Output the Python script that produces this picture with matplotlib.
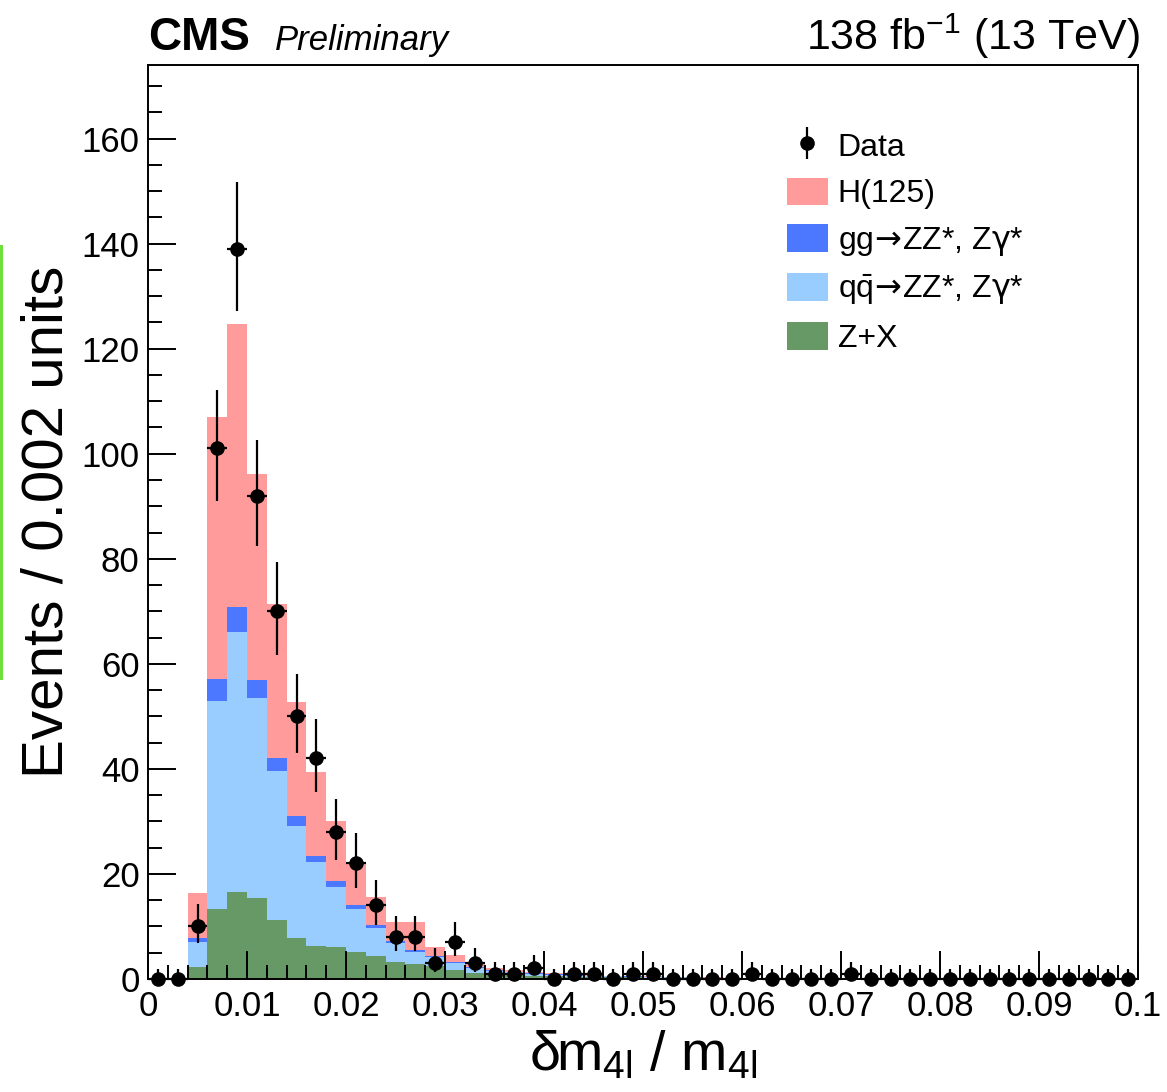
import numpy as np
import matplotlib
matplotlib.use("Agg")
import matplotlib.pyplot as plt
from matplotlib.patches import Patch, Rectangle
from matplotlib.ticker import MultipleLocator, FixedLocator, FixedFormatter

plt.rcParams['font.family'] = ['Liberation Sans', 'DejaVu Sans']
plt.rcParams['mathtext.fontset'] = 'custom'
plt.rcParams['mathtext.rm'] = 'Liberation Sans'
plt.rcParams['mathtext.it'] = 'Liberation Sans:italic'
plt.rcParams['mathtext.bf'] = 'Liberation Sans:bold'
plt.rcParams['mathtext.sf'] = 'DejaVu Sans'

# binning: 50 bins of 0.002 from 0 to 0.1
bin_edges = np.linspace(0.0, 0.1, 51)

# observed events per bin
data = [0, 0, 10, 101, 139, 92, 70, 50, 42, 28,
        22, 14, 8, 8, 3, 7, 3, 1, 1, 2,
        0, 1, 1, 0, 1, 1, 0, 0, 0, 0,
        1, 0, 0, 0, 0, 1, 0, 0, 0, 0,
        0, 0, 0, 0, 0, 0, 0, 0, 0, 0]

# expected contributions (not stacked)
zx = [0, 0, 2.2, 13.3, 16.6, 15.5, 11.2, 7.9, 6.3, 6.0,
      5.2, 4.4, 3.2, 2.9, 2.5, 1.7, 1.2, 0.9, 0.8, 0.6,
      0.5, 0.4, 0.35, 0.3, 0.3, 0.25, 0.2, 0.2, 0.15, 0.15,
      0.12, 0.12, 0.1, 0.1, 0.08, 0.08, 0.07, 0.06, 0.06, 0.05,
      0.05, 0.04, 0.04, 0.04, 0.03, 0.03, 0.03, 0.02, 0.02, 0.02]
qqzz = [0, 0, 4.9, 39.6, 49.4, 38.0, 28.4, 21.3, 16.0, 11.5,
        8.1, 5.4, 3.6, 2.3, 1.6, 1.3, 0.9, 0.6, 0.5, 0.4,
        0.3, 0.25, 0.2, 0.2, 0.15, 0.15, 0.12, 0.1, 0.1, 0.08,
        0.07, 0.06, 0.05, 0.05, 0.04, 0.04, 0.03, 0.03, 0.03, 0.02,
        0.02, 0.02, 0.02, 0.02, 0.01, 0.01, 0.01, 0.01, 0.01, 0.01]
ggzz = [0, 0, 0.8, 4.3, 4.8, 3.5, 2.5, 1.8, 1.2, 1.1,
        0.8, 0.5, 0.4, 0.3, 0.3, 0.3, 0.2, 0.2, 0.1, 0.1,
        0.1, 0.05, 0.05, 0.04, 0.04, 0.03, 0.03, 0.03, 0.02, 0.02,
        0.02, 0.02, 0.02, 0.01, 0.01, 0.01, 0.01, 0.01, 0.01, 0.01,
        0.01, 0.01, 0.01, 0.01, 0.01, 0.01, 0.01, 0.01, 0.01, 0.01]
higgs = [0, 0, 8.4, 49.8, 53.8, 39.2, 29.2, 21.7, 15.9, 11.5,
         7.9, 5.4, 3.6, 5.3, 1.6, 1.3, 0.8, 0.4, 0.4, 0.3,
         0.2, 0.2, 0.15, 0.12, 0.1, 0.08, 0.06, 0.05, 0.04, 0.03,
         0.03, 0.02, 0.02, 0.02, 0.01, 0.01, 0.01, 0.01, 0.01, 0.01,
         0.01, 0.01, 0.01, 0.01, 0.01, 0.01, 0.01, 0.01, 0.01, 0.01]

arrow = r"$\!\mathsf{\rightarrow}\!$"
labels = ["Z+X", r"q$\mathrm{\bar{q}}$" + arrow + r"ZZ*, Z$\mathsf{\gamma}$*",
          "gg" + arrow + r"ZZ*, Z$\mathsf{\gamma}$*", "H(125)"]
colors = ["#669966", "#99ccff", "#4b78ff", "#ff9b9b"]

x_ticks = [0, 0.01, 0.02, 0.03, 0.04, 0.05, 0.06, 0.07, 0.08, 0.09, 0.1]
x_ticklabels = ["0", "0.01", "0.02", "0.03", "0.04", "0.05", "0.06", "0.07", "0.08", "0.09", "0.1"]

fig = plt.figure(figsize=(11.67, 10.92), dpi=100)
ax = fig.add_axes([148 / 1167, 1 - 979 / 1092, 990 / 1167, 914 / 1092])

width = np.diff(bin_edges)
centers = 0.5 * (bin_edges[:-1] + bin_edges[1:])

bottom = np.zeros(len(centers))
for vals, col in zip([zx, qqzz, ggzz, higgs], colors):
    vals = np.array(vals)
    ax.bar(bin_edges[:-1], vals, width=width, bottom=bottom, align='edge',
           color=col, linewidth=0, zorder=1)
    bottom = bottom + vals

# poisson errors (Wilson-Hilferty approx of Garwood intervals)
n = np.array(data, dtype=float)
n1 = np.maximum(n, 1)
lo = np.where(n > 0, n - n * (1 - 1 / (9 * n1) - 1 / (3 * np.sqrt(n1))) ** 3, 0)
hi = (n + 1) * (1 - 1 / (9 * (n + 1)) + 1 / (3 * np.sqrt(n + 1))) ** 3 - n

ax.errorbar(centers, n, xerr=width / 2, yerr=[lo, hi], fmt='o', color='black',
            ms=9.5, elinewidth=1.6, capsize=0, zorder=3, clip_on=False)

ax.set_xlim(0, 0.1)
ax.set_ylim(0, 174)

ax.xaxis.set_major_locator(FixedLocator(x_ticks))
ax.xaxis.set_major_formatter(FixedFormatter(x_ticklabels))
ax.xaxis.set_minor_locator(MultipleLocator(0.002))
ax.yaxis.set_major_locator(MultipleLocator(20))
ax.yaxis.set_minor_locator(MultipleLocator(5))
ax.tick_params(which='both', direction='in', top=False, right=False, width=1.4,
               labelsize=25, zorder=5)
ax.tick_params(which='major', length=20)
ax.tick_params(which='minor', length=10)
ax.tick_params(axis='x', pad=8)
ax.tick_params(axis='y', pad=6)
for s in ax.spines.values():
    s.set_linewidth(1.4)
    s.set_zorder(5)

ax.set_ylabel("Events / 0.002 units", fontsize=42)
ax.yaxis.set_label_coords(-0.074, 0.5)
ax.set_xlabel(r"δm$_{\mathrm{4l}}$ / m$_{\mathrm{4l}}$", fontsize=40)
ax.xaxis.set_label_coords(0.5, -0.055)

# legend
data_proxy = ax.errorbar([], [], yerr=[], fmt='o', color='black', ms=9.5, elinewidth=1.6)
handles = [data_proxy] + [Patch(color=c, linewidth=0) for c in colors[::-1]]
leg_labels = ["Data"] + labels[::-1]
ax.legend(handles, leg_labels, loc='upper left', bbox_to_anchor=(0.645, 0.928),
          frameon=False, fontsize=23, borderpad=0, borderaxespad=0,
          handlelength=1.3, handleheight=0.95, handletextpad=0.3, labelspacing=0.47)

fig.text(148 / 1167, 1 - 50 / 1092, "CMS", fontsize=33, fontweight='bold', va='baseline')
fig.text(275 / 1167, 1 - 50 / 1092, "Preliminary", fontsize=25, style='italic', va='baseline')
fig.text(1140 / 1167, 1 - 50 / 1092, r"138 fb$^{\mathrm{-1}}$ (13 TeV)", fontsize=31,
         ha='right', va='baseline')

# green marker line at the left edge of the picture
fig.add_artist(Rectangle((0, 1 - 680 / 1092), 3 / 1167, 435 / 1092,
                         transform=fig.transFigure, color="#6ee03c", linewidth=0))

fig.savefig("out.png", dpi=100)
